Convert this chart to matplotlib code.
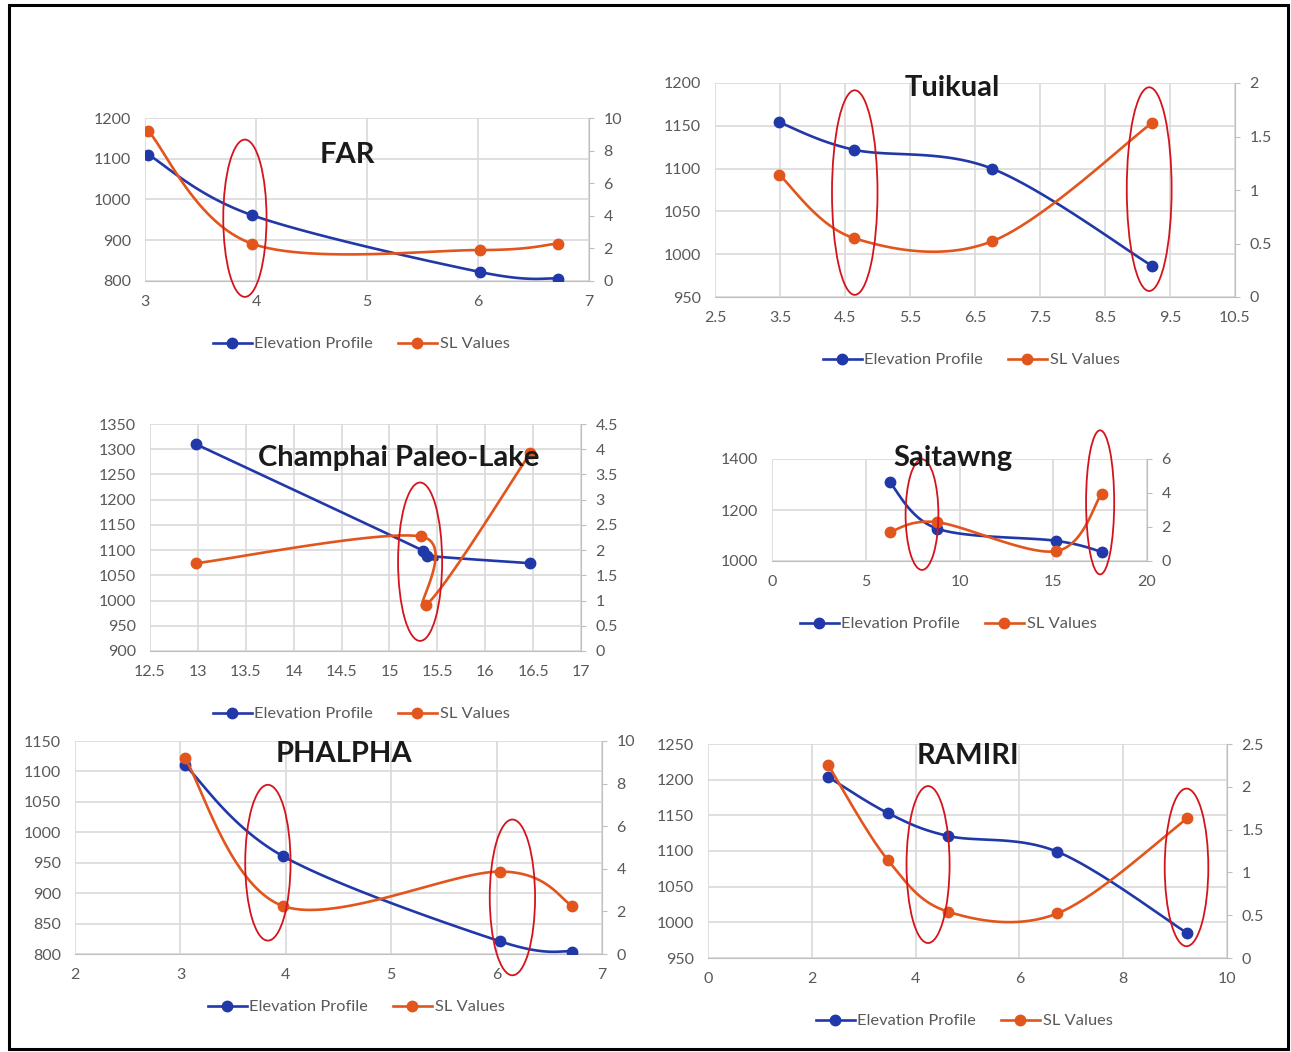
import numpy as np
import matplotlib
matplotlib.use("Agg")
import matplotlib.pyplot as plt
from matplotlib.patches import Ellipse, Rectangle

plt.rcParams['font.family'] = ['Lato', 'DejaVu Sans']

W, H = 1291, 1052

# values
far_x = [3.03, 3.96, 6.02, 6.72]
far_elev = [1110, 962, 822, 806]
far_sl = [9.2, 2.3, 1.9, 2.3]

tui_x = [3.49, 4.64, 6.76, 9.23]
tui_elev = [1154, 1122, 1100, 986]
tui_sl = [1.14, 0.55, 0.52, 1.63]

cha_x = [12.98, 15.35, 15.39, 16.47]
cha_elev = [1310, 1099, 1089, 1074]
cha_sl_x = [12.98, 15.33, 15.38, 16.47]
cha_sl = [1.74, 2.27, 0.91, 3.92]

sai_x = [6.28, 8.81, 15.16, 17.58]
sai_elev = [1308, 1127, 1079, 1036]
sai_sl = [1.71, 2.28, 0.58, 3.95]

pha_x = [3.04, 3.97, 6.03, 6.72]
pha_elev = [1111, 961, 821, 804]
pha_sl = [9.22, 2.26, 3.87, 2.26]

ram_x = [2.31, 3.47, 4.63, 6.73, 9.23]
ram_elev = [1204, 1153, 1121, 1099, 985]
ram_sl = [2.26, 1.14, 0.54, 0.52, 1.63]

BLUE = '#2138a8'
ORANGE = '#e2551c'
ELL = '#d4141c'
TICK = '#595959'
GRID = '#d9d9d9'

fig = plt.figure(figsize=(W / 100, H / 100), dpi=100)


def smooth(x, y, n=40):
    # excel-like smoothed line: bezier through the points
    p = np.column_stack([x, y]).astype(float)
    out = [p[0]]
    t = np.linspace(0, 1, n)[1:, None]
    for i in range(len(p) - 1):
        p0 = p[i - 1] if i > 0 else p[i]
        p3 = p[i + 2] if i + 2 < len(p) else p[i + 1]
        c1 = p[i] + (p[i + 1] - p0) / 6
        c2 = p[i + 1] - (p3 - p[i]) / 6
        seg = (1 - t) ** 3 * p[i] + 3 * (1 - t) ** 2 * t * c1 + 3 * (1 - t) * t ** 2 * c2 + t ** 3 * p[i + 1]
        out.extend(seg)
    out = np.array(out)
    return out[:, 0], out[:, 1]


def panel(px, py, xticks, yticks, y2ticks, ex, ey, sx, sy, title, tpos, ellipses, lpos):
    ax = fig.add_axes([px[0] / W, 1 - py[1] / H, (px[1] - px[0]) / W, (py[1] - py[0]) / H])
    ax2 = ax.twinx()
    ax.set_xlim(xticks[0], xticks[-1])
    ax.set_ylim(yticks[0], yticks[-1])
    ax2.set_ylim(y2ticks[0], y2ticks[-1])
    ax.set_xticks(xticks)
    ax.set_yticks(yticks)
    ax2.set_yticks(y2ticks)
    ax.set_xticklabels([('%g' % v) for v in xticks])
    ax.set_yticklabels([('%g' % v) for v in yticks])
    ax2.set_yticklabels([('%g' % v) for v in y2ticks])
    ax.grid(True, color=GRID, lw=1.2)
    ax.set_axisbelow(True)
    for a in (ax, ax2):
        for s in ('top', 'left', 'right', 'bottom'):
            a.spines[s].set_visible(False)
    ax.spines['bottom'].set_visible(True)
    ax.spines['bottom'].set_color('#bfbfbf')
    ax2.spines['right'].set_visible(True)
    ax2.spines['right'].set_color('#bfbfbf')
    ax.tick_params(axis='x', length=0, labelsize=11.5, labelcolor=TICK, pad=10)
    ax.tick_params(axis='y', length=0, labelsize=11.5, labelcolor=TICK, pad=10)
    ax2.tick_params(axis='y', length=3.5, color='#bfbfbf', labelsize=11.5, labelcolor=TICK, pad=7)

    bx, by = smooth(ex, ey)
    ax.plot(bx, by, color=BLUE, lw=1.9, zorder=3)
    ax.plot(ex, ey, 'o', color=BLUE, ms=7.5, zorder=4)
    ox, oy = smooth(sx, sy)
    ax2.plot(ox, oy, color=ORANGE, lw=1.9, zorder=3)
    ax2.plot(sx, sy, 'o', color=ORANGE, ms=7.5, zorder=4)

    for cx, cy, w, h in ellipses:
        e = Ellipse((cx, cy), w, h, transform=ax.transData, fill=False,
                    edgecolor=ELL, lw=1.3, clip_on=False, zorder=6)
        ax2.add_patch(e)

    fig.text(tpos[0] / W, 1 - tpos[1] / H, title, ha='center', va='center',
             fontsize=21, fontweight='bold', color='#1a1a1a', zorder=10)

    h1 = plt.Line2D([], [], color=BLUE, lw=1.9, marker='o', ms=7.5)
    h2 = plt.Line2D([], [], color=ORANGE, lw=1.9, marker='o', ms=7.5)
    fig.legend([h1, h2], ['Elevation Profile', 'SL Values'], loc='center',
               bbox_to_anchor=(lpos[0] / W, 1 - lpos[1] / H), ncol=2, frameon=False,
               fontsize=11.8, handlelength=2.4, handletextpad=0.15, columnspacing=1.5,
               labelcolor=TICK)


panel((145, 589), (118, 281), [3, 4, 5, 6, 7], [800, 900, 1000, 1100, 1200], [0, 2, 4, 6, 8, 10],
      far_x, far_elev, far_x, far_sl, 'FAR', (347, 155),
      [(3.90, 954, 0.39, 386)], (361, 344))

panel((715, 1235), (83, 297), [2.5, 3.5, 4.5, 5.5, 6.5, 7.5, 8.5, 9.5, 10.5],
      [950, 1000, 1050, 1100, 1150, 1200], [0, 0.5, 1, 1.5, 2],
      tui_x, tui_elev, tui_x, tui_sl, 'Tuikual', (952, 88),
      [(4.65, 1072, 0.70, 239), (9.18, 1076, 0.69, 238)], (971, 360))

panel((150, 581), (424, 651), [12.5, 13, 13.5, 14, 14.5, 15, 15.5, 16, 16.5, 17],
      [900, 950, 1000, 1050, 1100, 1150, 1200, 1250, 1300, 1350],
      [0, 0.5, 1, 1.5, 2, 2.5, 3, 3.5, 4, 4.5],
      cha_x, cha_elev, cha_sl_x, cha_sl, 'Champhai Paleo-Lake', (399, 458),
      [(15.32, 1077, 0.46, 314)], (361, 714))

panel((772, 1147), (459, 561), [0, 5, 10, 15, 20], [1000, 1200, 1400], [0, 2, 4, 6],
      sai_x, sai_elev, sai_x, sai_sl, 'Saitawng', (953, 458),
      [(8.0, 1182, 1.75, 434), (17.5, 1230, 1.5, 565)], (948, 624))

panel((75, 602), (741, 954), [2, 3, 4, 5, 6, 7], [800, 850, 900, 950, 1000, 1050, 1100, 1150],
      [0, 2, 4, 6, 8, 10],
      pha_x, pha_elev, pha_x, pha_sl, 'PHALPHA', (344, 754),
      [(3.83, 950, 0.43, 256), (6.15, 893, 0.43, 256)], (356, 1007))

panel((708, 1227), (744, 958), [0, 2, 4, 6, 8, 10], [950, 1000, 1050, 1100, 1150, 1200, 1250],
      [0, 0.5, 1, 1.5, 2, 2.5],
      ram_x, ram_elev, ram_x, ram_sl, 'RAMIRI', (968, 756),
      [(4.24, 1081, 0.83, 220), (9.22, 1077, 0.84, 221)], (964, 1021))

# black frame round the whole figure
fig.add_artist(Rectangle((8.5 / W, 1 - 1049 / H), 1279 / W, 1044 / H, transform=fig.transFigure,
                         fill=False, edgecolor='black', lw=2.2))

fig.savefig('out.png', dpi=100, facecolor='white')
